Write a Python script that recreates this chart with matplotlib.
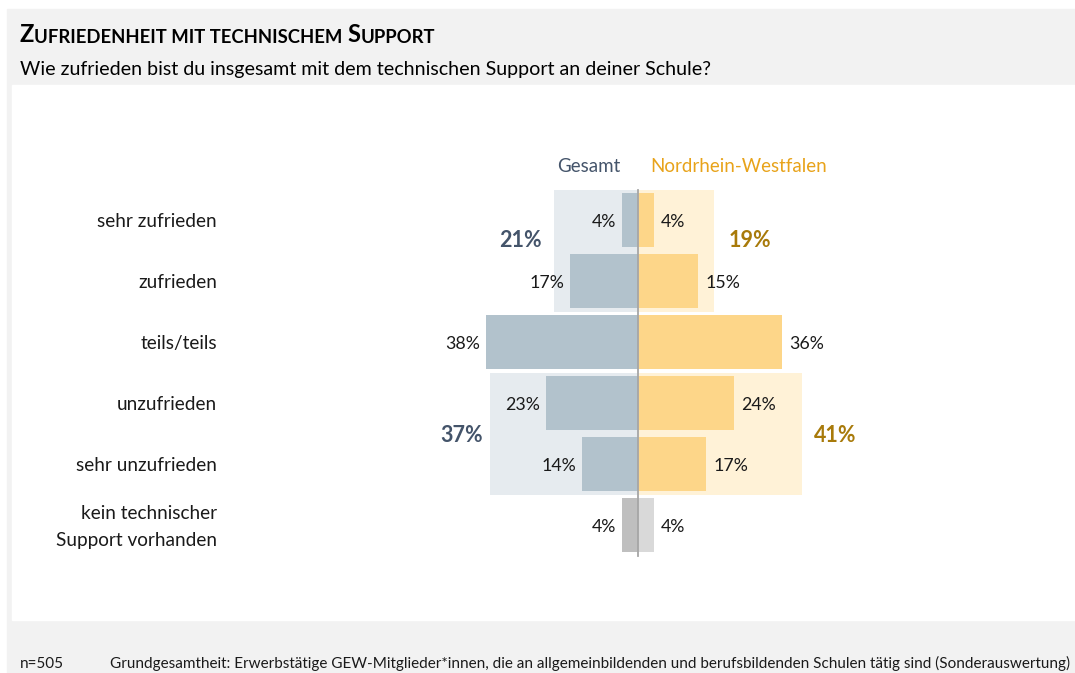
import matplotlib.pyplot as plt
from matplotlib.patches import Rectangle

plt.rcParams['font.family'] = ['Lato', 'DejaVu Sans']

categories = ['sehr zufrieden', 'zufrieden', 'teils/teils', 'unzufrieden',
              'sehr unzufrieden', 'kein technischer\nSupport vorhanden']
gesamt = [4, 17, 38, 23, 14, 4]
nrw = [4, 15, 36, 24, 17, 4]
gesamt_groups = [21, 37]
nrw_groups = [19, 41]
group_rows = [(0, 1), (3, 4)]

W, H = 1075, 673
fig = plt.figure(figsize=(W / 100, H / 100), dpi=100)
fig.patch.set_facecolor('white')

def px_rect(x0, y0, x1, y1, color):
    # rectangle in pixel coordinates measured from top-left
    fig.patches.append(Rectangle((x0 / W, 1 - y1 / H), (x1 - x0) / W, (y1 - y0) / H,
                                 transform=fig.transFigure, color=color, zorder=-5))

px_rect(7, 9, W, H, '#f2f2f2')
px_rect(12, 85, W, 620, 'white')

ax = fig.add_axes([0, 0, 1, 1])
ax.patch.set_visible(False)
ax.axis('off')
ppu = 4.0
x0 = 638
ax.set_xlim(-x0 / ppu, (W - x0) / ppu)
row0, step = 220, 61
ax.set_ylim((H - row0) / step, -row0 / step)

c_g_bar, c_g_box = '#b2c2cc', '#e6ebef'
c_n_bar, c_n_box = '#fdd689', '#fff2d7'
c_g_txt, c_n_txt = '#44546a', '#a87a0a'

for (a, b), gs, ns in zip(group_rows, gesamt_groups, nrw_groups):
    ax.add_patch(Rectangle((-gs, a - 0.5), gs, b - a + 1, color=c_g_box, lw=0, zorder=1))
    ax.add_patch(Rectangle((0, a - 0.5), ns, b - a + 1, color=c_n_box, lw=0, zorder=1))

ys = list(range(len(categories)))
gb = [c_g_bar] * 5 + ['#bfbfbf']
nb = [c_n_bar] * 5 + ['#d9d9d9']
ax.barh(ys, [-v for v in gesamt], height=0.9, color=gb, zorder=2)
ax.barh(ys, nrw, height=0.9, color=nb, zorder=2)
ax.plot([0, 0], [-0.5, 5.5], color='#a6a6a6', lw=1.3, zorder=3)

fs = 12.8
for y, g, n, lab in zip(ys, gesamt, nrw, categories):
    ax.text(-g - 1.5, y, f'{g}%', ha='right', va='center_baseline', fontsize=fs,
            color='#1a1a1a')
    ax.text(n + 1.8, y, f'{n}%', ha='left', va='center_baseline', fontsize=fs,
            color='#1a1a1a')
    multi = '\n' in lab
    ax.text(-105.25, y + (0.03 if multi else 0), lab, ha='right',
            va='center' if multi else 'center_baseline', fontsize=13.7,
            color='#1a1a1a', linespacing=1.67)

# group totals (gap to the shaded box differs slightly per group)
for (a, b), gs, ns, dy, gg, gn in zip(group_rows, gesamt_groups, nrw_groups,
                                      [-0.2, 0.0], [3, 1.8], [3.7, 3]):
    yc = (a + b) / 2 + dy
    ax.text(-gs - gg, yc, f'{gs}%', ha='right', va='center_baseline', fontsize=15.5,
            fontweight='bold', color=c_g_txt)
    ax.text(ns + gn, yc, f'{ns}%', ha='left', va='center_baseline', fontsize=15.5,
            fontweight='bold', color=c_n_txt)

ax.text(-4.3, -0.9, 'Gesamt', ha='right', va='center_baseline', fontsize=13.5,
        color='#44546a')
ax.text(3, -0.9, 'Nordrhein-Westfalen', ha='left', va='center_baseline', fontsize=13.5,
        color='#e8a31a')

# title in small caps
t = fig.text(20 / W, 1 - 42 / H, 'Z', fontsize=17, fontweight='bold', color='black')
for part, size in [('UFRIEDENHEIT MIT TECHNISCHEM ', 13.3), ('S', 17), ('UPPORT', 13.3)]:
    t = ax.annotate(part, xy=(1, 0), xycoords=t, fontsize=size, fontweight='bold',
                    va='bottom', ha='left', color='black', annotation_clip=False)
fig.text(20 / W, 1 - 75 / H, 'Wie zufrieden bist du insgesamt mit dem technischen '
         'Support an deiner Schule?', fontsize=14.15, color='black')

fig.text(20 / W, 1 - 668 / H, 'n=505', fontsize=10.95, color='#1a1a1a')
fig.text(110 / W, 1 - 668 / H, 'Grundgesamtheit: Erwerbstätige GEW-Mitglieder*innen, '
         'die an allgemeinbildenden und berufsbildenden Schulen tätig sind '
         '(Sonderauswertung)', fontsize=10.95, color='#1a1a1a')

fig.savefig('out.png', dpi=100)
